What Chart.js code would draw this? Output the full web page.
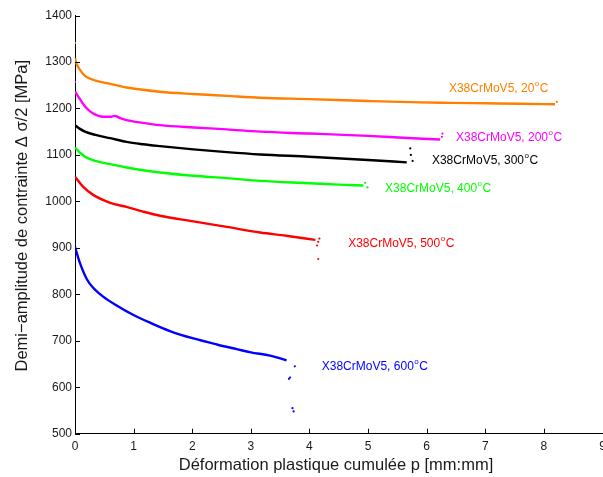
<!DOCTYPE html>
<html><head><meta charset="utf-8">
<script src="https://cdn.jsdelivr.net/npm/chart.js@4/dist/chart.umd.min.js"></script>
<style>html,body{margin:0;padding:0;background:#fff;}</style>
</head><body>
<canvas id="c" width="603" height="477"></canvas>
<script>
// ---- data ----
const temperatures = ['20', '200', '300', '400', '500', '600'];
const seriesColors = ['#FF8000', '#FF00FF', '#000000', '#00FF00', '#FF0000', '#0000FF'];

const x20  = [0, 0.03, 0.085, 0.17, 0.35, 0.6, 0.88, 1.45, 2.02, 2.59, 3.16, 4.0, 5.0, 5.89, 6.4, 7.0, 7.6, 8.19];
const y20  = [1308, 1295, 1283, 1270, 1260, 1253, 1245, 1236, 1231, 1227, 1223, 1220, 1216, 1213, 1212, 1211, 1210, 1209];
const tx20 = [0, 8.22];
const ty20 = [1341, 1214];

const x200  = [0, 0.085, 0.17, 0.31, 0.48, 0.6, 0.68, 0.77, 0.88, 1.16, 1.45, 2.02, 2.59, 3.16, 4.0, 5.0, 5.6, 6.23];
const y200  = [1236, 1220, 1204, 1189, 1182, 1182, 1184, 1179, 1175, 1169, 1164, 1159, 1155, 1150, 1146, 1141, 1137, 1133];
const tx200 = [0, 6.27, 6.26];
const ty200 = [1257, 1146, 1139];

const x300  = [0, 0.085, 0.17, 0.35, 0.6, 0.88, 1.16, 1.45, 2.02, 2.59, 3.16, 4.0, 5.0, 5.66];
const y300  = [1164, 1156, 1150, 1143, 1136, 1128, 1123, 1119, 1112, 1106, 1101, 1096, 1089, 1084];
const tx300 = [0, 5.72, 5.73, 5.76];
const ty300 = [1179, 1114, 1100, 1087];

const x400  = [0, 0.085, 0.17, 0.35, 0.6, 0.88, 1.16, 1.45, 2.02, 2.59, 3.16, 4.0, 4.5, 4.92];
const y400  = [1116, 1105, 1096, 1087, 1080, 1073, 1067, 1062, 1055, 1050, 1044, 1039, 1036, 1034];
const tx400 = [4.95, 4.99];
const ty400 = [1040, 1030];

const x500  = [0, 0.05, 0.14, 0.31, 0.6, 0.88, 1.16, 1.45, 2.02, 2.59, 3.16, 3.6, 4.1];
const y500  = [1053, 1045, 1031, 1014, 997, 988, 978, 969, 957, 945, 933, 926, 917];
const tx500 = [4.17, 4.15, 4.13, 4.15];
const ty500 = [920, 913, 905, 876];

const x600  = [0, 0.04, 0.085, 0.2, 0.31, 0.48, 0.71, 0.99, 1.28, 1.62, 2.02, 2.42, 2.76, 3.0, 3.33, 3.61];
const y600  = [902, 885, 867, 833, 814, 795, 776, 756, 739, 721, 705, 692, 682, 675, 668, 658];
const tx600 = [0, 3.75, 3.67, 3.65, 3.71, 3.73];
const ty600 = [908, 645, 621, 618, 555, 548];

const xTickValues = [0, 1, 2, 3, 4, 5, 6, 7, 8, 9];
const yTickValues = [500, 600, 700, 800, 900, 1000, 1100, 1200, 1300, 1400];

const xTitle = 'Déformation plastique cumulée p [mm:mm]';
const yTitle = 'Demi\u2212amplitude de contrainte \u0394 \u03c3/2 [MPa]';
const labelPrefix = 'X38CrMoV5, ';

// ---- annotation placement (data units) ----
const labelPlacement = {
  x: [6.38, 6.50, 6.09, 5.29, 4.66, 4.21],
  y: [1242, 1136, 1087, 1028, 908, 645]
};

// ---- build datasets ----
const mainX = [x20, x200, x300, x400, x500, x600];
const mainY = [y20, y200, y300, y400, y500, y600];
const tailX = [tx20, tx200, tx300, tx400, tx500, tx600];
const tailY = [ty20, ty200, ty300, ty400, ty500, ty600];
const zip = (xs, ys) => xs.map((v, i) => ({x: v, y: ys[i]}));

const datasets = [];
temperatures.forEach((t, i) => {
  datasets.push({
    data: zip(mainX[i], mainY[i]), showLine: true, borderColor: seriesColors[i],
    borderWidth: 2.4, pointRadius: 0, pointHoverRadius: 0, cubicInterpolationMode: 'monotone', fill: false
  });
  datasets.push({
    data: zip(tailX[i], tailY[i]), showLine: false, pointRadius: 1.1, pointHoverRadius: 0,
    pointBorderWidth: 0, backgroundColor: seriesColors[i], borderColor: seriesColors[i]
  });
});

const FONT = '"Liberation Sans", Arial, Helvetica, sans-serif';

const decor = {
  id: 'decor',
  afterDraw(chart) {
    const ctx = chart.ctx, xs = chart.scales.x, ys = chart.scales.y;
    const area = chart.chartArea;
    ctx.save();
    // inward ticks
    ctx.strokeStyle = '#000'; ctx.lineWidth = 1;
    ctx.beginPath();
    xTickValues.forEach(v => {
      const px = Math.round(xs.getPixelForValue(v)) + 0.5;
      ctx.moveTo(px, area.bottom); ctx.lineTo(px, area.bottom - 5);
    });
    yTickValues.forEach(v => {
      const py = Math.round(ys.getPixelForValue(v)) + 0.5;
      ctx.moveTo(area.left, py); ctx.lineTo(area.left + 5, py);
    });
    ctx.stroke();
    // axis titles
    ctx.fillStyle = '#1a1a1a';
    ctx.font = '16.5px ' + FONT;
    ctx.textBaseline = 'middle';
    ctx.textAlign = 'center';
    ctx.fillText(xTitle, 336, 465);
    ctx.save();
    ctx.translate(22, 60);
    ctx.rotate(-Math.PI / 2);
    ctx.textAlign = 'right';
    ctx.fillText(yTitle, 0, 0);
    ctx.restore();
    // curve labels
    ctx.textBaseline = 'middle'; ctx.textAlign = 'left';
    temperatures.forEach((t, i) => {
      const px = xs.getPixelForValue(labelPlacement.x[i]);
      const py = ys.getPixelForValue(labelPlacement.y[i]);
      ctx.fillStyle = seriesColors[i];
      ctx.font = '12px ' + FONT;
      const main = labelPrefix + t;
      ctx.fillText(main, px, py);
      const w1 = ctx.measureText(main).width;
      ctx.font = '8px ' + FONT;
      ctx.fillText('o', px + w1 + 0.5, py - 5);
      const w2 = ctx.measureText('o').width;
      ctx.font = '12px ' + FONT;
      ctx.fillText('C', px + w1 + w2 + 1, py);
    });
    ctx.restore();
  }
};

new Chart(document.getElementById('c'), {
  type: 'scatter',
  data: { datasets },
  plugins: [decor],
  options: {
    responsive: false, animation: false,
    layout: { autoPadding: false, padding: { top: 15.5, right: 0.5, left: 0, bottom: 0 } },
    plugins: { legend: { display: false }, tooltip: { enabled: false } },
    events: [],
    scales: {
      x: {
        type: 'linear', min: 0, max: 9,
        afterBuildTicks: s => { s.ticks = xTickValues.map(v => ({value: v})); },
        afterFit: s => { s.height = 43.3; s.paddingLeft = 0; s.paddingRight = 0; },
        ticks: { color: '#1a1a1a', font: { size: 12, family: FONT }, padding: 6, maxRotation: 0, autoSkip: false,
                 callback: v => String(v) },
        grid: { drawOnChartArea: false, drawTicks: false },
        border: { display: true, color: '#000', width: 1 },
        title: { display: false }
      },
      y: {
        type: 'linear', min: 500, max: 1400,
        afterBuildTicks: s => { s.ticks = yTickValues.map(v => ({value: v})); },
        afterFit: s => { s.width = 75; s.paddingTop = 0; s.paddingBottom = 0; },
        ticks: { color: '#1a1a1a', font: { size: 12, family: FONT }, padding: 3, autoSkip: false,
                 callback: v => String(v) },
        grid: { drawOnChartArea: false, drawTicks: false },
        border: { display: true, color: '#000', width: 1 },
        title: { display: false }
      }
    }
  }
});
</script>
</body></html>
